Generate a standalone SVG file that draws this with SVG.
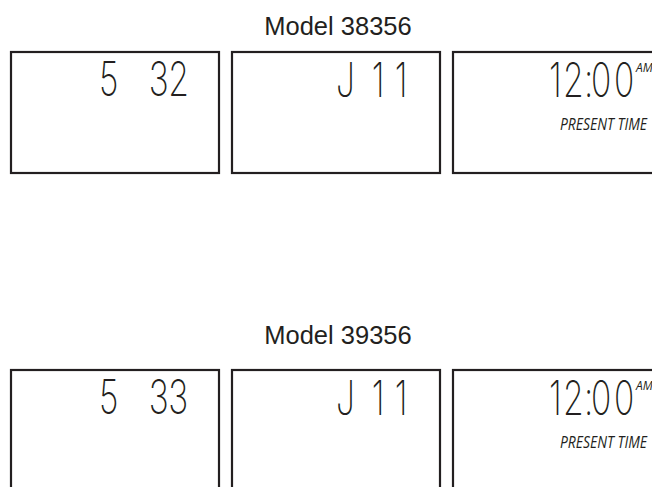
<svg xmlns="http://www.w3.org/2000/svg" width="652" height="487" viewBox="0 0 652 487">
<style>
.box{fill:#fff;stroke:#231f20;stroke-width:2.2}
.title{font-family:"Liberation Sans",Arial,sans-serif;font-size:25.5px;fill:#231f20;text-anchor:middle}
.lcd{font-family:Inter,Roboto,"DejaVu Sans",sans-serif;font-weight:200;font-size:48px;fill:#231f20}
.lbl{font-family:"Open Sans","Liberation Sans",sans-serif;font-style:italic;font-size:16px;fill:#231f20}
.am{font-family:"Open Sans","Liberation Sans",sans-serif;font-style:italic;font-size:12px;fill:#231f20}
</style>
<rect width="652" height="487" fill="#fff"/>
<g id="model-38356">
  <text id="title-38356" class="title" x="338" y="35">Model 38356</text>
  <g id="display-s-38356">
    <rect class="box" x="11" y="52" width="208" height="121"/>
    <text class="lcd" transform="translate(99 96) scale(0.7 1)" x="0 37 71 99" y="0">5 32</text>
  </g>
  <g id="display-j-38356">
    <rect class="box" x="232" y="52" width="208" height="121"/>
    <text class="lcd" transform="translate(336 97) scale(0.7 1)" x="0 29 51 84" y="0">J 11</text>
  </g>
  <g id="display-time-38356">
    <rect class="box" x="453" y="52" width="210" height="121"/>
    <text class="lcd" transform="translate(549 97) scale(0.7 1)" x="0 20 50 60 93" y="0">12:00</text>
    <text class="am" x="636" y="72">AM</text>
    <text class="lbl" x="560" y="130" textLength="87" lengthAdjust="spacingAndGlyphs">PRESENT TIME</text>
  </g>
</g>
<g id="model-39356">
  <text id="title-39356" class="title" x="338" y="344">Model 39356</text>
  <g id="display-s-39356">
    <rect class="box" x="11" y="370" width="208" height="130"/>
    <text class="lcd" transform="translate(99 414) scale(0.7 1)" x="0 37 71 99" y="0">5 33</text>
  </g>
  <g id="display-j-39356">
    <rect class="box" x="232" y="370" width="208" height="130"/>
    <text class="lcd" transform="translate(336 415) scale(0.7 1)" x="0 29 51 84" y="0">J 11</text>
  </g>
  <g id="display-time-39356">
    <rect class="box" x="453" y="370" width="210" height="130"/>
    <text class="lcd" transform="translate(549 415) scale(0.7 1)" x="0 20 50 60 93" y="0">12:00</text>
    <text class="am" x="636" y="390">AM</text>
    <text class="lbl" x="560" y="448" textLength="87" lengthAdjust="spacingAndGlyphs">PRESENT TIME</text>
  </g>
</g>
<g id="connectors"/>
</svg>
